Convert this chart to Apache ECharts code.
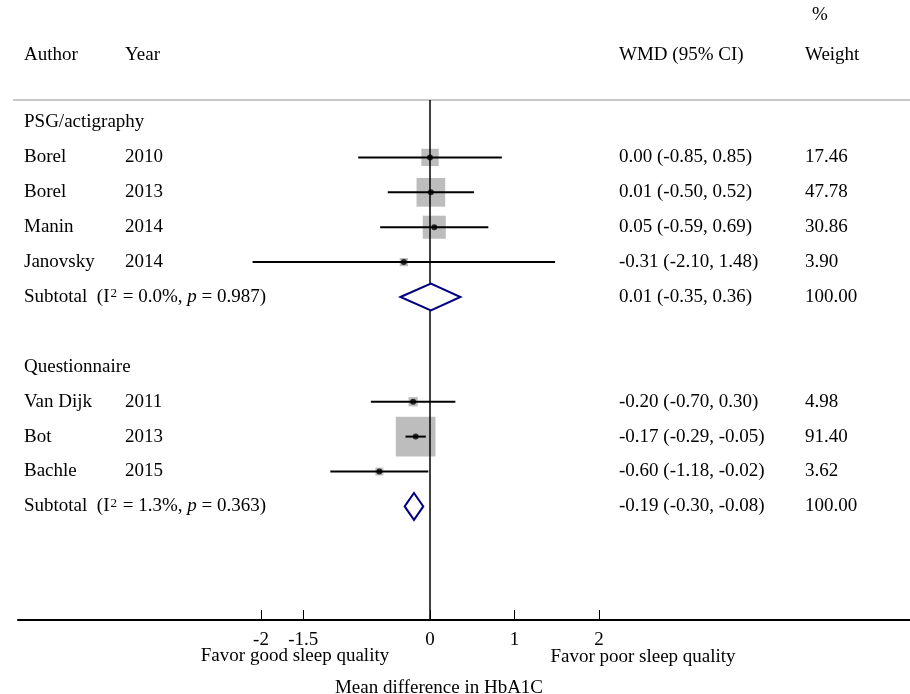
<!DOCTYPE html>
<html><head><meta charset="utf-8">
<script src="https://cdn.jsdelivr.net/npm/echarts@6/dist/echarts.min.js"></script>
<style>html,body{margin:0;padding:0;background:#fff}#c{width:910px;height:694px}</style>
</head><body><div id="c"></div>
<script>
// ---- data ----
const groupNames = ['PSG/actigraphy', 'Questionnaire'];
const authors = ['Borel', 'Borel', 'Manin', 'Janovsky', 'Van Dijk', 'Bot', 'Bachle'];
const years = ['2010', '2013', '2014', '2014', '2011', '2013', '2015'];
const studyGroup = [0, 0, 0, 0, 1, 1, 1];
const wmd = [0.00, 0.01, 0.05, -0.31, -0.20, -0.17, -0.60];
const ciLow = [-0.85, -0.50, -0.59, -2.10, -0.70, -0.29, -1.18];
const ciHigh = [0.85, 0.52, 0.69, 1.48, 0.30, -0.05, -0.02];
const weights = [17.46, 47.78, 30.86, 3.90, 4.98, 91.40, 3.62];
const subI2 = [0.0, 1.3];
const subP = [0.987, 0.363];
const subWmd = [0.01, -0.19];
const subLow = [-0.35, -0.30];
const subHigh = [0.36, -0.08];
const subWeight = [100.00, 100.00];
const tickValues = [-2, -1.5, 0, 1, 2];

// ---- layout ----
const FONT = '"Liberation Serif","Times New Roman",serif';
const FS = 19;
const studyRow = [], headerRow = [], subRow = [];
let r = 0;
groupNames.forEach((g, gi) => {
  headerRow.push(r++);
  studyGroup.forEach((sg, i) => { if (sg === gi) studyRow[i] = r++; });
  subRow.push(r++);
  r++;
});
const f2 = v => v.toFixed(2);
const ciText = (e, l, h) => `${f2(e)} (${f2(l)}, ${f2(h)})`;
const COL = { author: 24, year: 125, wmd: 619, weight: 805 };

const textRows = [];
groupNames.forEach((g, gi) => textRows.push({ row: headerRow[gi], cols: [{ x: COL.author, t: g }] }));
authors.forEach((a, i) => textRows.push({ row: studyRow[i], cols: [
  { x: COL.author, t: a }, { x: COL.year, t: years[i] },
  { x: COL.wmd, t: ciText(wmd[i], ciLow[i], ciHigh[i]) }, { x: COL.weight, t: f2(weights[i]) }] }));
groupNames.forEach((g, gi) => textRows.push({ row: subRow[gi], cols: [
  { x: COL.author, t: 'Subtotal  (I{sup|2} = ' + subI2[gi].toFixed(1) + '%, {it|p} = ' + subP[gi].toFixed(3) + ')' },
  { x: COL.wmd, t: ciText(subWmd[gi], subLow[gi], subHigh[gi]) }, { x: COL.weight, t: f2(subWeight[gi]) }] }));

const richStyle = {
  it: { fontStyle: 'italic', fontFamily: FONT, fontSize: FS, fill: '#000' },
  sup: { fontFamily: FONT, fontSize: 13, fill: '#000', verticalAlign: 'top', padding: [0, 1, 0, 1] }
};

const chart = echarts.init(document.getElementById('c'));
const gtext = (x, y, t, align) => ({ type: 'text', x, y, z: 10,
  style: { text: t, fontFamily: FONT, fontSize: FS, fill: '#000', textAlign: align || 'left', textVerticalAlign: 'middle' } });

chart.setOption({
  animation: false,
  grid: { left: 18, right: 0, top: 100, bottom: 74 },
  xAxis: {
    type: 'value', min: -4.876, max: 5.68,
    axisLine: { show: true, onZero: false, lineStyle: { color: '#000', width: 2 } },
    axisTick: { show: true, inside: true, length: 10, customValues: tickValues, lineStyle: { color: '#000', width: 1 } },
    axisLabel: { show: true, customValues: tickValues, color: '#000', fontFamily: FONT, fontSize: FS, margin: 11 },
    splitLine: { show: false }
  },
  yAxis: { type: 'value', inverse: true, min: -0.645, max: 14.255, show: false },
  graphic: [
    { type: 'line', shape: { x1: 13, y1: 100, x2: 910, y2: 100 }, style: { stroke: '#c8c8c8', lineWidth: 2 }, z: 0 },
    gtext(COL.author, 55, 'Author'),
    gtext(COL.year, 55, 'Year'),
    gtext(COL.wmd, 55, 'WMD (95% CI)'),
    gtext(812, 15, '%'),
    gtext(COL.weight, 55, 'Weight'),
    gtext(295, 656, 'Favor good sleep quality', 'center'),
    gtext(643, 657, 'Favor poor sleep quality', 'center'),
    gtext(439, 688, 'Mean difference in HbA1C', 'center')
  ],
  series: [
    { type: 'custom', name: 'boxes', z: 2, clip: false,
      data: wmd.map((v, i) => [v, studyRow[i], weights[i]]),
      renderItem: (p, api) => {
        const c = api.coord([api.value(0), api.value(1)]);
        const s = 4.15 * Math.sqrt(api.value(2));
        return { type: 'rect', shape: { x: c[0] - s / 2, y: c[1] - s / 2, width: s, height: s }, style: { fill: '#bdbdbd' } };
      } },
    { type: 'custom', name: 'ci', z: 3, clip: false,
      data: ciLow.map((v, i) => [v, studyRow[i], ciHigh[i]]),
      renderItem: (p, api) => {
        const a = api.coord([api.value(0), api.value(1)]);
        const b = api.coord([api.value(2), api.value(1)]);
        return { type: 'line', shape: { x1: a[0], y1: a[1], x2: b[0], y2: b[1] }, style: { stroke: '#000', lineWidth: 2 } };
      } },
    { type: 'scatter', name: 'est', z: 4, symbol: 'circle', symbolSize: 6,
      itemStyle: { color: '#000' },
      data: wmd.map((v, i) => [v, studyRow[i]]),
      markLine: { silent: true, symbol: ['none', 'none'], label: { show: false },
        lineStyle: { color: '#000', type: 'solid', width: 1.5 }, data: [{ xAxis: 0 }] } },
    { type: 'custom', name: 'diamonds', z: 5, clip: false,
      data: subWmd.map((v, gi) => [v, subRow[gi], subLow[gi], subHigh[gi]]),
      renderItem: (p, api) => {
        const c = api.coord([api.value(0), api.value(1)]);
        const l = api.coord([api.value(2), api.value(1)]);
        const h = api.coord([api.value(3), api.value(1)]);
        const hh = 13.5;
        return { type: 'polygon', shape: { points: [[l[0], c[1]], [c[0], c[1] - hh], [h[0], c[1]], [c[0], c[1] + hh]] },
          style: { fill: '#fff', stroke: '#000080', lineWidth: 2 } };
      } },
    { type: 'custom', name: 'labels', z: 6, clip: false,
      data: textRows.map(t => [0, t.row]),
      renderItem: (p, api) => {
        const row = textRows[p.dataIndex];
        const y = api.coord([0, api.value(1)])[1];
        return { type: 'group', children: row.cols.map(c => ({
          type: 'text', x: c.x, y: y,
          style: { text: c.t, fontFamily: FONT, fontSize: FS, fill: '#000', align: 'left', verticalAlign: 'middle', rich: richStyle }
        })) };
      } }
  ]
});
</script></body></html>
